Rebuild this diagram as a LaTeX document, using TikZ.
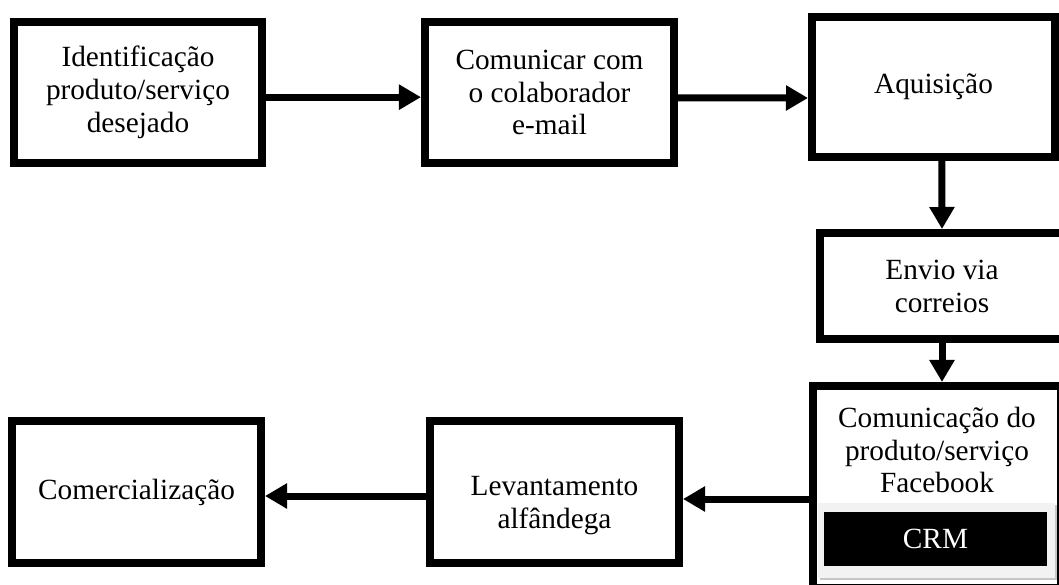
\documentclass[tikz,border=0pt]{standalone}
\usepackage{fontspec}
\setmainfont{Liberation Serif}
\usetikzlibrary{arrows.meta,shadows}

\begin{document}
\begin{tikzpicture}[x=0.03cm, y=-0.03cm,
    box/.style={draw, fill=white, line width=0.24cm, inner sep=0pt, align=center,
      font=\fontsize{25}{28.1}\selectfont},
    txt/.style={inner sep=0pt, align=center, font=\fontsize{25}{28.1}\selectfont},
    arr/.style={line width=0.21cm, -{Triangle[length=0.66cm,width=0.72cm]}}]
    \useasboundingbox (0, 0) rectangle (1059, 584);

    % top row
    \node[box, minimum width=7.44cm, minimum height=4.23cm] (ident) at (138, 92.5)
      {Identificação\\produto/serviço\\desejado};
    \node[box, minimum width=7.47cm, minimum height=4.23cm] (comun) at (549.5, 92.5)
      {Comunicar com\\o colaborador\\e-mail};
    \node[box, minimum width=7.29cm, minimum height=4.2cm] (aquis) at (933.5, 87)
      {Aquisição};

    % right column
    \node[box, minimum width=7.32cm, minimum height=3.18cm] (envio) at (942, 286)
      {Envio via\\correios};
    \node[box, minimum width=7.44cm, minimum height=6.06cm] (comm) at (937, 487) {};
    \node[txt] (commtxt) at (937, 450) {Comunicação do\\produto/serviço\\Facebook};
    \node[fill=gray!10, inner sep=0pt, minimum width=7.11cm, minimum height=2.25cm,
      drop shadow={shadow xshift=0.06cm, shadow yshift=-0.06cm, fill=gray!45, opacity=1}]
      (crmframe) at (936.5, 540.5) {};
    \node[txt, fill=black, text=white, minimum width=6.69cm, minimum height=1.62cm]
      (crm) at (935.5, 539) {CRM};

    % bottom row
    \node[box, minimum width=7.47cm, minimum height=4.26cm] (lev) at (554.5, 492) {};
    \node[txt] (levtxt) at (554.5, 506) {Levantamento\\alfândega};
    \node[box, minimum width=7.47cm, minimum height=4.26cm] (comer) at (136.5, 492)
      {Comercialização};

    \draw[arr] ([yshift=-0.14cm]ident.east) -- ([yshift=-0.14cm]comun.west);
    \draw[arr] ([yshift=-0.16cm]comun.east) -- ([yshift=-0.33cm]aquis.west);
    \draw[arr] ([xshift=0.25cm]aquis.south) -- (envio.north);
    \draw[arr] (envio.south) -- ([xshift=0.15cm]comm.north);
    \draw[arr] ([yshift=-0.36cm]comm.west) -- ([yshift=-0.21cm]lev.east);
    \draw[arr] ([yshift=-0.12cm]lev.west) -- ([yshift=-0.12cm]comer.east);
  \end{tikzpicture}
\end{document}
